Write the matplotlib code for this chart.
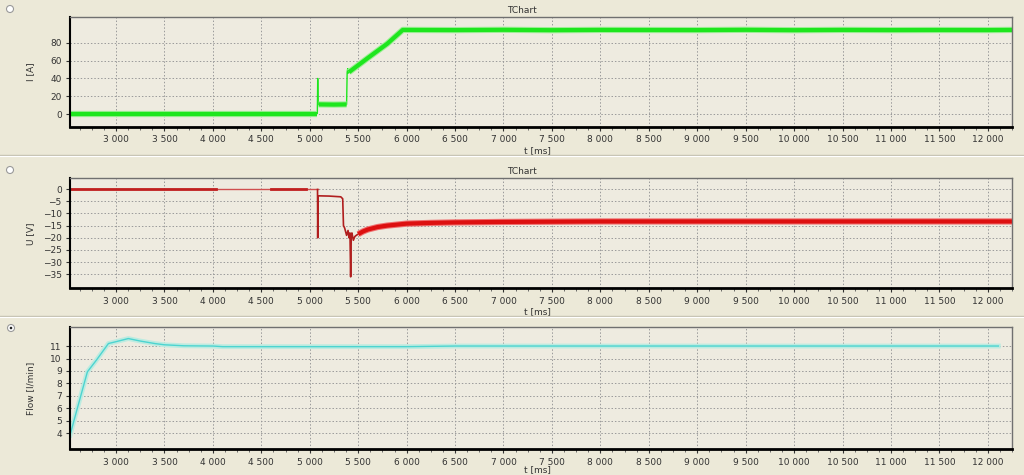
import matplotlib
matplotlib.use('Agg')
import matplotlib.pyplot as plt
from matplotlib.ticker import FuncFormatter, MultipleLocator, FixedLocator
from matplotlib.lines import Line2D
from matplotlib.patches import Circle

# ---- data ----
# current I [A]
cur_t = [2525, 5078, 5082, 5086, 5092, 5250, 5380, 5386, 5392, 5398, 5404,
         5600, 5800, 5960, 6500, 7000, 7500, 8000, 8500, 9000, 9500,
         10000, 10500, 11000, 11500, 12000, 12250]
cur_i = [0.5, 0.5, 40, 11, 10.8, 10.6, 10.8, 47, 51, 46, 47,
         63, 79, 94.5, 94.3, 94.6, 94.2, 94.5, 94.4, 94.3, 94.6,
         94.2, 94.5, 94.3, 94.4, 94.3, 94.5]

# voltage U [V]
volt_t_idle = [2525, 5080]
volt_u_idle = [-0.2, -0.2]
volt_t_busy1 = [2525, 4030]
volt_t_busy2 = [4600, 4960]
volt_t = [5080, 5082, 5085, 5090, 5200, 5320, 5340, 5348, 5360, 5380,
          5395, 5405, 5415, 5422, 5428, 5435, 5450, 5465, 5480, 5500]
volt_u = [-0.2, -20, -3, -2.8, -2.9, -3.2, -4, -15, -16, -19,
          -17, -20, -18, -36, -20, -18, -21, -19.5, -19, -18.5]
volt_t_band = [5500, 5550, 5600, 5700, 5800, 6000, 6250, 6500, 7000, 7500,
               8000, 9000, 10000, 11000, 12250]
volt_u_band = [-18.5, -17.4, -16.6, -15.6, -15.0, -14.2, -13.9, -13.7, -13.5, -13.4,
               -13.3, -13.3, -13.3, -13.3, -13.3]

# flow [l/min]
flow_t = [2525, 2600, 2704, 2800, 2921, 3000, 3127, 3250, 3400, 3500,
          3700, 4000, 4100, 5000, 6000, 6500, 8000, 10000, 12109]
flow_v = [3.86, 6.0, 8.93, 9.9, 11.2, 11.35, 11.6, 11.4, 11.2, 11.1,
          11.02, 11.0, 10.95, 10.95, 10.95, 11.0, 11.0, 11.0, 11.0]

x_ticks = [3000, 3500, 4000, 4500, 5000, 5500, 6000, 6500, 7000, 7500, 8000,
           8500, 9000, 9500, 10000, 10500, 11000, 11500, 12000]
x_lim = (2525, 12250)

BG = '#ECE9D8'
PLOT_BG = '#EEEBE0'


def thousands(v, pos):
    return f"{int(round(v)):,}".replace(",", " ")


def style_axes(ax, ylim, yticks, ylabel, title=None, xlab_y=-0.17):
    ax.set_facecolor(PLOT_BG)
    ax.set_xlim(*x_lim)
    ax.set_ylim(*ylim)
    ax.xaxis.set_major_locator(FixedLocator(x_ticks))
    ax.xaxis.set_minor_locator(MultipleLocator(125))
    ax.xaxis.set_major_formatter(FuncFormatter(thousands))
    ax.yaxis.set_major_locator(FixedLocator(yticks))
    ax.grid(True, which='major', color='#9A9A9A', linestyle=(0, (1.5, 2)), linewidth=0.7)
    ax.set_axisbelow(True)
    ax.tick_params(axis='both', which='major', labelsize=6.5, colors='#333333',
                   length=3, width=0.8, pad=3)
    ax.tick_params(axis='x', which='minor', length=2, width=0.6, colors='#555555')
    for side in ['top', 'right']:
        ax.spines[side].set_color('#707070')
        ax.spines[side].set_linewidth(1.0)
    ax.spines['left'].set_color('black')
    ax.spines['left'].set_linewidth(1.5)
    ax.spines['bottom'].set_color('black')
    ax.spines['bottom'].set_linewidth(2.0)
    ax.set_ylabel(ylabel, fontsize=6.5, color='#333333')
    ax.yaxis.set_label_coords(-0.037, 0.5)
    ax.set_xlabel('t [ms]', fontsize=6.5, color='#333333', labelpad=0)
    ax.xaxis.set_label_coords(0.496, xlab_y)
    if title:
        ax.set_title(title, fontsize=6.5, color='#333333', pad=3, x=0.48)


fig = plt.figure(figsize=(10.24, 4.75), dpi=100, facecolor=BG)

ax1 = fig.add_axes([0.0684, 0.7326, 0.9199, 0.2316])
ax2 = fig.add_axes([0.0684, 0.3931, 0.9199, 0.2316])
ax3 = fig.add_axes([0.0684, 0.0541, 0.9199, 0.2581])

# current: thin trace everywhere, noisy thick band on the steady parts
ax1.plot(cur_t, cur_i, color='#1EE61E', linewidth=1.0)
for a, b in [(0, 2), (4, 7), (10, len(cur_t))]:
    ax1.plot(cur_t[a:b], cur_i[a:b], color='#9EEE96', linewidth=4.5, solid_capstyle='butt')
    ax1.plot(cur_t[a:b], cur_i[a:b], color='#1EE61E', linewidth=3.0, solid_capstyle='butt')
style_axes(ax1, (-14.6, 109), [0, 20, 40, 60, 80], 'I [A]', 'TChart')

# voltage
ax2.plot(volt_t_idle, volt_u_idle, color='#D05050', linewidth=1.0)
ax2.plot(volt_t_busy1, volt_u_idle, color='#C02020', linewidth=2.0)
ax2.plot(volt_t_busy2, volt_u_idle, color='#C02020', linewidth=2.0)
ax2.plot(volt_t, volt_u, color='#B01E1E', linewidth=1.2)
ax2.plot(volt_t_band, volt_u_band, color='#F07070', linewidth=4.5, solid_capstyle='butt')
ax2.plot(volt_t_band, volt_u_band, color='#DD1010', linewidth=3.0, solid_capstyle='butt')
style_axes(ax2, (-40.7, 4.4), list(range(0, -40, -5)), 'U [V]', 'TChart')

# flow
ax3.plot(flow_t, flow_v, color='#BDEBE0', linewidth=3.5)
ax3.plot(flow_t, flow_v, color='#4CD4D0', linewidth=1.0)
style_axes(ax3, (2.72, 12.55), list(range(4, 12)), 'Flow [l/min]', xlab_y=-0.13)

# panel separators
for yp in [155, 316]:
    yf = 1 - yp / 475
    fig.add_artist(Line2D([0, 1], [yf, yf], transform=fig.transFigure,
                          color='#C5C2B2', linewidth=1.0))
    fig.add_artist(Line2D([0, 1], [yf - 0.003, yf - 0.003], transform=fig.transFigure,
                          color='#FFFFFF', linewidth=0.8))

# radio buttons
for (px, py, sel) in [(10, 9, False), (10, 170, False), (11, 328, True)]:
    c = Circle((px / 100, (475 - py) / 100), 0.035, transform=fig.dpi_scale_trans,
               facecolor='white', edgecolor='#9A9A9A', linewidth=0.8)
    fig.add_artist(c)
    if sel:
        fig.add_artist(Circle((px / 100, (475 - py) / 100), 0.013,
                              transform=fig.dpi_scale_trans,
                              facecolor='#222222', edgecolor='none'))

fig.savefig('out.png', dpi=100, facecolor=BG)
